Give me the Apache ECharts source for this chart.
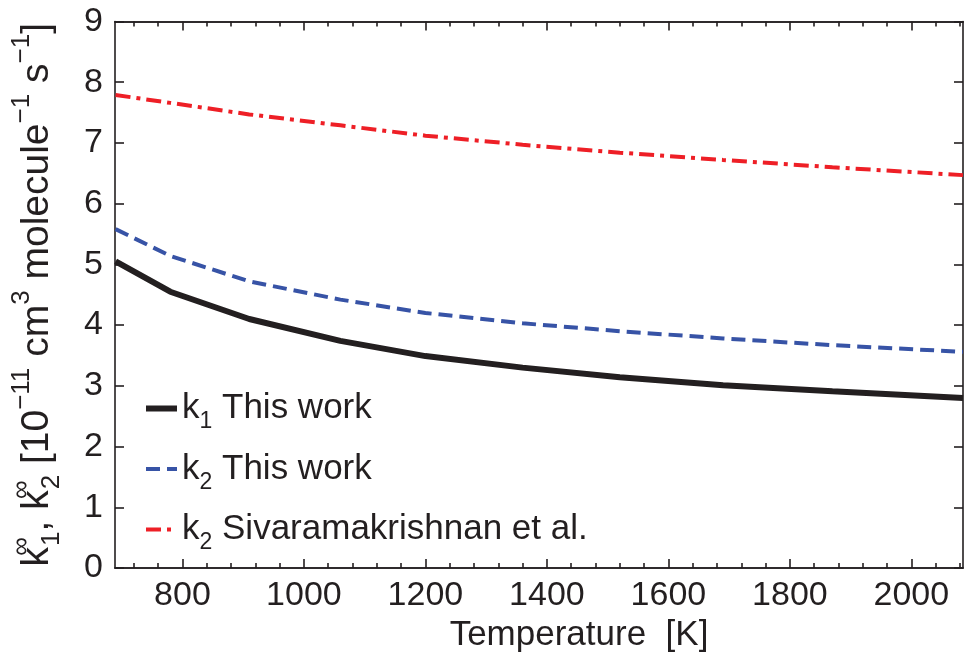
<!DOCTYPE html>
<html>
<head>
<meta charset="utf-8">
<script src="https://cdn.jsdelivr.net/npm/echarts@6/dist/echarts.min.js"></script>
<style>
  html, body { margin: 0; padding: 0; background: #fff; }
  #chart { width: 966px; height: 659px; }
</style>
</head>
<body>
<div id="chart"></div>
<script>
// temperature nodes [K] and rate constants [1e-11 cm3 molecule-1 s-1]
const temps = [690, 780, 910, 1060, 1200, 1360, 1520, 1690, 1870, 2085];
const k1This = [5.05, 4.55, 4.10, 3.74, 3.49, 3.30, 3.14, 3.01, 2.91, 2.80];
const k2This = [5.58, 5.14, 4.72, 4.42, 4.20, 4.03, 3.90, 3.78, 3.67, 3.56];
const k2Siva = [7.79, 7.66, 7.47, 7.29, 7.12, 6.97, 6.84, 6.72, 6.60, 6.47];
const seriesNames = ['k1 This work', 'k2 This work', 'k2 Sivaramakrishnan et al.'];

const xMajor = [800, 1000, 1200, 1400, 1600, 1800, 2000];
const xMinor = [720, 760, 840, 880, 920, 960, 1040, 1080, 1120, 1160, 1240, 1280, 1320, 1360,
  1440, 1480, 1520, 1560, 1640, 1680, 1720, 1760, 1840, 1880, 1920, 1960, 2040, 2080];

const ink = '#231f20';
const font = 'Liberation Sans, Arial, Helvetica, sans-serif';
const xMin = 689, xMax = 2085;

const rich = {
  t: { fontSize: 35, fontFamily: font, color: ink, lineHeight: 50 },
  sp: { fontSize: 23, fontFamily: font, color: ink, lineHeight: 23, verticalAlign: 'top' },
  sb: { fontSize: 23, fontFamily: font, color: ink, lineHeight: 23, verticalAlign: 'bottom' }
};
// slightly bigger for the y axis title
const richY = {
  t: { fontSize: 39, fontFamily: font, color: ink, lineHeight: 56 },
  sp: { fontSize: 26, fontFamily: font, color: ink, lineHeight: 26, verticalAlign: 'top' },
  spz: { fontSize: 26, fontFamily: font, color: ink, lineHeight: 26, verticalAlign: 'top', width: 1 },
  sb: { fontSize: 26, fontFamily: font, color: ink, lineHeight: 26, verticalAlign: 'bottom' }
};

const chart = echarts.init(document.getElementById('chart'));

function xAxisDef(pos, values, len, labels) {
  return {
    type: 'value', position: pos, min: xMin, max: xMax,
    axisLine: { show: true, onZero: false, lineStyle: { color: ink, width: 1.6 } },
    axisTick: { show: true, inside: true, length: len, customValues: values, lineStyle: { color: ink, width: 1.6 } },
    axisLabel: {
      show: labels, customValues: values, margin: 11, color: ink, fontSize: 34, fontFamily: font,
      formatter: function (v) { return String(v); }
    },
    splitLine: { show: false }
  };
}

const xAxes = [
  xAxisDef('bottom', xMajor, 9, true),
  xAxisDef('bottom', xMinor, 5, false),
  xAxisDef('top', xMajor, 9, false),
  xAxisDef('top', xMinor, 5, false)
];
xAxes[0].name = 'Temperature  [K]';
xAxes[0].nameLocation = 'middle';
xAxes[0].nameGap = 48;
xAxes[0].nameTextStyle = { fontSize: 35, fontFamily: font, color: ink, padding: [0, 0, 0, 80] };

function yAxisDef(pos, labels) {
  return {
    type: 'value', position: pos, min: 0, max: 9, interval: 1,
    axisLine: { show: true, onZero: false, lineStyle: { color: ink, width: 1.6 } },
    axisTick: { show: true, inside: true, length: 9, lineStyle: { color: ink, width: 1.6 } },
    axisLabel: { show: labels, margin: 12, color: ink, fontSize: 34, fontFamily: font },
    splitLine: { show: false }
  };
}

const yAxes = [yAxisDef('left', true), yAxisDef('right', false)];
yAxes[0].name = '{t|k}{spz|∞}{sb|1}{t|, k}{spz|∞}{sb|2}{t| [10}{sp|−11}{t| cm}{sp|3}{t| molecule}{sp|−1}{t| s}{sp|−1}{t|]}';
yAxes[0].nameLocation = 'middle';
yAxes[0].nameRotate = 90;
yAxes[0].nameGap = 50;
yAxes[0].nameTextStyle = { rich: richY };

function pairs(vals) {
  return temps.map((t, i) => [t, vals[i]]);
}

const lineWidths = [6, 4, 4];
const lineColors = [ink, '#3753a6', '#ee1f26'];
const lineTypes = ['solid', [14, 7], [15, 6, 4, 6]];

const option = {
  animation: false,
  grid: { left: 115, right: 3, top: 21.5, bottom: 91 },
  legend: {
    orient: 'vertical', left: 138, top: 386, itemWidth: 31, itemHeight: 14, itemGap: 18,
    data: seriesNames.map((n, i) => ({
      name: n,
      itemStyle: { opacity: 0 },
      lineStyle: { color: lineColors[i], width: lineWidths[i], type: lineTypes[i] }
    })),
    formatter: function (name) {
      return '{t|k}{sb|' + name.charAt(1) + '}{t|' + name.slice(2) + '}';
    },
    textStyle: { rich: rich }
  },
  xAxis: xAxes,
  yAxis: yAxes,
  series: seriesNames.map((n, i) => ({
    name: n, type: 'line', data: pairs([k1This, k2This, k2Siva][i]), symbol: 'none',
    lineStyle: { color: lineColors[i], width: lineWidths[i], type: lineTypes[i] },
    itemStyle: { color: lineColors[i] }
  }))
};

chart.setOption(option);
window.addEventListener('resize', function () {
  chart.resize();
});
</script>
</body>
</html>
